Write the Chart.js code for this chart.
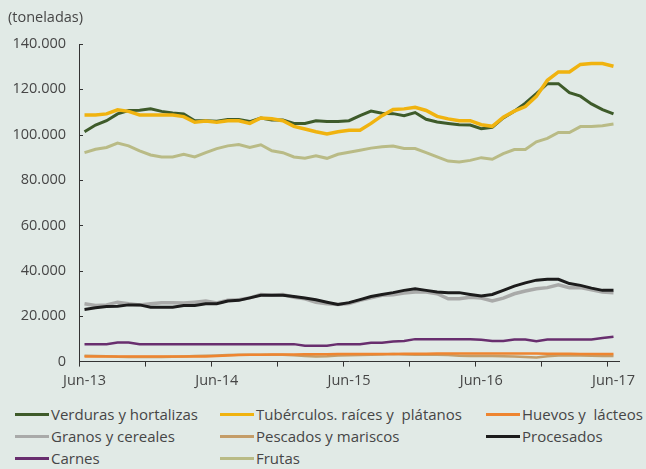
<!DOCTYPE html>
<html>
<head>
<meta charset="utf-8">
<script src="https://cdn.jsdelivr.net/npm/chart.js@4"></script>
<style>
  body { margin: 0; background: #e1eae6; font-family: "Open Sans", sans-serif; color: #464646; }
  #wrap { position: relative; width: 646px; height: 469px; overflow: hidden; }
  #unit { position: absolute; left: 8px; top: 7px; font-size: 14.5px; }
  #box { position: absolute; left: 0; top: 0; width: 646px; height: 396px; }
  #legend { position: absolute; left: 0; top: 404px; width: 646px; font-size: 15px; }
  .item { position: absolute; display: flex; align-items: center; white-space: pre; line-height: 20px; }
  .sw { width: 34px; height: 3px; margin-right: 2px; }
</style>
</head>
<body>
<div id="wrap">
  <div id="box"><canvas id="chart"></canvas></div>
  <div id="unit">(toneladas)</div>
  <div id="legend"></div>
</div>
<script>
// meses jun-13 .. jun-17
const monthNames = ['Jun', 'Jul', 'Ago', 'Sep', 'Oct', 'Nov', 'Dic', 'Ene', 'Feb', 'Mar', 'Abr', 'May'];
const years = ['13', '14', '15', '16', '17'];
const yTicks = [0, 20000, 40000, 60000, 80000, 100000, 120000, 140000];

const verduras = [101300,104300,106200,109200,110700,110800,111400,110300,109600,109200,106200,106200,106000,106700,106700,105800,107400,106500,106500,105000,105000,106200,105800,105800,106200,108400,110400,109500,109300,108400,109800,106800,105600,105000,104400,104300,102700,103300,107400,110400,113900,118100,122500,122500,118500,117000,113600,111100,109200];
const tuberculos = [108700,108700,109200,111000,110300,108700,108700,108700,108700,108000,105500,106000,105500,106200,106200,105000,107400,107000,106200,103700,102500,101300,100300,101300,102000,102000,105000,108400,111100,111400,112100,110700,108100,107000,106200,106200,104400,103700,107700,110400,112400,116900,124000,127700,127700,131000,131400,131400,130200];
const huevos = [2300,2300,2300,2300,2300,2300,2300,2300,2300,2300,2300,2300,2500,2700,2900,3000,3000,3100,3100,3100,3200,3200,3200,3300,3300,3300,3400,3400,3400,3500,3500,3500,3600,3600,3600,3600,3600,3600,3600,3600,3600,3600,3500,3500,3500,3400,3400,3400,3400];
const granos = [25500,24700,25000,26200,25500,25000,25500,25900,25900,25800,26200,26700,25800,27000,27300,28100,29600,29200,29600,28400,27700,26200,25500,25200,25600,27000,28100,29200,29500,30200,30700,30700,29900,27700,27700,28400,28000,26700,28000,29900,31100,32100,32600,33900,32600,32600,31700,30700,30400];
const pescados = [2600,2500,2400,2100,2000,2000,2000,2000,2100,2300,2500,2600,2700,2900,3000,3000,3000,3000,3000,2800,2500,2300,2400,2700,2800,2900,3000,3100,3300,3100,3000,3000,3000,2900,2600,2500,2500,2500,2400,2300,2000,1800,2400,2700,2700,2700,2600,2500,2500];
const procesados = [23000,23700,24300,24400,25000,25000,24000,24000,24000,24700,24700,25500,25500,26700,27000,28100,29200,29200,29200,28700,28000,27300,26200,25200,26000,27300,28700,29600,30400,31400,32100,31400,30700,30400,30400,29600,28900,29600,31400,33300,34700,35900,36300,36300,34400,33600,32400,31400,31400];
const carnes = [7700,7700,7700,8400,8400,7700,7700,7700,7700,7700,7700,7700,7700,7700,7700,7700,7700,7700,7700,7700,7000,7000,7000,7700,7700,7700,8300,8300,8900,9100,9900,9900,9900,9900,9900,9900,9600,9100,9100,9700,9700,9000,9700,9700,9700,9700,9700,10400,11000];
const frutas = [92100,93600,94400,96300,95100,92900,91100,90200,90200,91400,90200,92100,93900,95100,95700,94400,95600,92900,92100,90200,89600,90700,89600,91400,92300,93200,94100,94700,95000,93900,93900,92100,90200,88400,88000,88700,89900,89200,91700,93500,93500,96900,98400,101000,101000,103600,103600,104000,104700];

const labels = [];
for (let i = 0; i < verduras.length; i++) {
    labels.push(monthNames[i % 12] + '-' + years[Math.floor(i / 12)]);
}

// nombre, datos, color, grosor, orden de dibujo (menor = encima), posición en la leyenda
const series = [
    { label: 'Verduras y hortalizas', data: verduras, color: '#3e5b2a', w: 3, order: 1, left: 15, row: 0 },
    { label: 'Tubérculos. raíces y  plátanos', data: tuberculos, color: '#f0b30f', w: 3.5, order: 0, left: 220, row: 0 },
    { label: 'Huevos y  lácteos', data: huevos, color: '#ee8530', w: 2.5, order: 4, left: 486, row: 0 },
    { label: 'Granos y cereales', data: granos, color: '#a9aaa9', w: 3.5, order: 3, left: 15, row: 1 },
    { label: 'Pescados y mariscos', data: pescados, color: '#c49d68', w: 2.5, order: 5, left: 220, row: 1 },
    { label: 'Procesados', data: procesados, color: '#1c1c1c', w: 3, order: 2, left: 486, row: 1 },
    { label: 'Carnes', data: carnes, color: '#682e6e', w: 2.5, order: 6, left: 15, row: 2 },
    { label: 'Frutas', data: frutas, color: '#b9bb86', w: 3, order: 7, left: 220, row: 2 }
];

const legend = document.getElementById('legend');
series.forEach(s => {
    const el = document.createElement('div');
    el.className = 'item';
    el.style.left = s.left + 'px';
    el.style.top = (s.row * 22) + 'px';
    el.innerHTML = '<span class="sw" style="background:' + s.color + '"></span><span>' + s.label + '</span>';
    legend.appendChild(el);
});

// marcas cortas hacia dentro en el eje y
const innerTicks = {
    id: 'innerTicks',
    afterDraw(chart) {
        const y = chart.scales.y;
        const ctx = chart.ctx;
        ctx.save();
        ctx.strokeStyle = '#333';
        ctx.lineWidth = 1;
        y.ticks.forEach(t => {
            if (t.value === 0) return;
            const py = Math.round(y.getPixelForValue(t.value)) + 0.5;
            ctx.beginPath();
            ctx.moveTo(y.right, py);
            ctx.lineTo(y.right + 4, py);
            ctx.stroke();
        });
        ctx.restore();
    }
};

const tickFont = { family: 'Open Sans', size: 14.5 };

new Chart(document.getElementById('chart'), {
    type: 'line',
    data: {
        labels: labels,
        datasets: series.map(s => ({
            label: s.label,
            data: s.data,
            borderColor: s.color,
            backgroundColor: s.color,
            borderWidth: s.w,
            pointRadius: 0,
            tension: 0,
            fill: false,
            order: s.order
        }))
    },
    options: {
        responsive: true,
        maintainAspectRatio: false,
        animation: false,
        layout: { padding: { left: 13, right: 27, top: 44, bottom: 0 } },
        plugins: { legend: { display: false }, tooltip: { enabled: false } },
        scales: {
            x: {
                offset: true,
                afterFit: axis => { axis.paddingLeft = 0; axis.paddingRight = 0; },
                grid: {
                    offset: true,
                    drawOnChartArea: false,
                    tickLength: 5,
                    tickColor: ctx => (ctx.index % 6 === 0 ? '#333' : 'rgba(0,0,0,0)')
                },
                border: { color: '#333', width: 1 },
                ticks: {
                    autoSkip: false,
                    maxRotation: 0,
                    padding: 6,
                    color: '#464646',
                    font: tickFont,
                    callback: (v, i) => (i % 12 === 0 ? labels[i] : '')
                }
            },
            y: {
                min: 0,
                max: 140000,
                afterBuildTicks: axis => { axis.ticks = yTicks.map(v => ({ value: v })); },
                afterFit: axis => { axis.width = 66; axis.paddingTop = 0; axis.paddingBottom = 0; },
                grid: { display: false, drawTicks: false },
                border: { color: '#333', width: 1 },
                ticks: {
                    padding: 13,
                    color: '#464646',
                    font: tickFont,
                    callback: v => v.toLocaleString('de-DE')
                }
            }
        }
    },
    plugins: [innerTicks]
});
</script>
</body>
</html>
